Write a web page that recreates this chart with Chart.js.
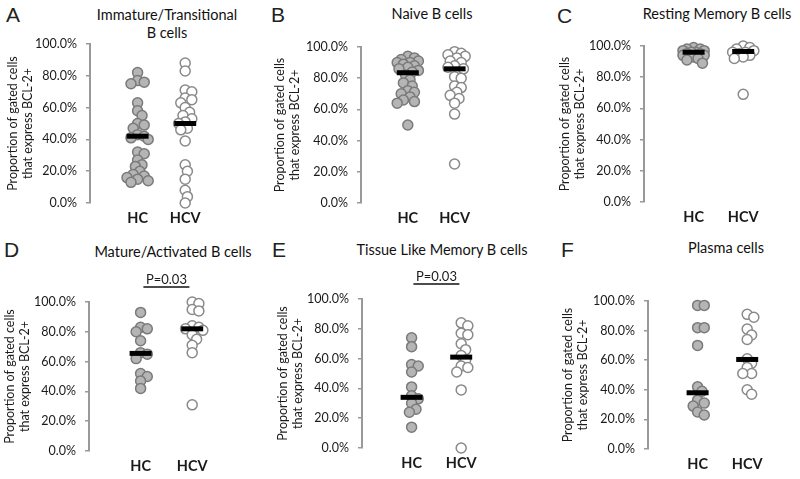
<!DOCTYPE html>
<html>
<head>
<meta charset="utf-8">
<script src="https://cdn.jsdelivr.net/npm/chart.js@4.4.1/dist/chart.umd.min.js"></script>
<style>
  body { margin: 0; background: #fff; width: 800px; height: 479px; position: relative; overflow: hidden; font-family: Lato, sans-serif; color: #1a1a1a; }
  canvas { position: absolute; }
  .letter { position: absolute; font-family: "Liberation Sans", sans-serif; font-size: 21px; line-height: 22px; color: #222; }
  .title { position: absolute; width: 240px; text-align: center; font-size: 14.5px; line-height: 18px; color: #111; }
</style>
</head>
<body>
<script>
const groups = ["HC", "HCV"];
const panelLetters = ["A", "B", "C", "D", "E", "F"];
const panelTitles = [
  ["Immature/Transitional", "B cells"],
  ["Naive B cells"],
  ["Resting Memory B cells"],
  ["Mature/Activated B cells"],
  ["Tissue Like Memory B cells"],
  ["Plasma cells"]
];
const yTitle = ["Proportion of gated cells", "that express BCL-2+"];
const pLabels = [null, null, null, "P=0.03", "P=0.03", null];

// values in %
const hcA = [82, 77, 76, 75, 63, 58, 55, 50, 49, 47, 43, 42, 41, 40, 32, 31, 27, 24, 23, 20, 18, 17, 16, 15, 14, 13];
const hcvA = [88, 83, 71, 70, 66, 65, 63, 60, 57, 55, 53, 51, 50, 47, 46, 39, 24, 20, 15, 8, 4, 0];
const medA = [42, 50];

const hcB = [94, 93, 92, 91, 90, 90, 89, 88, 87, 86, 85, 84, 82, 79, 77, 75, 72, 71, 70, 68, 66, 65, 64, 50];
const hcvB = [97, 96, 95, 94, 93, 91, 90, 88, 87, 86, 81, 80, 75, 74, 71, 69, 67, 64, 57, 25];
const medB = [83.5, 86];

const hcC = [99, 98, 98, 97, 97, 96, 96, 95, 95, 94, 94, 93, 92, 91, 89];
const hcvC = [100, 99, 98, 97, 96, 96, 95, 94, 93, 92, 69];
const medC = [96, 96.5];

const hcD = [93, 83, 82, 80, 74, 66, 65, 62, 52, 50, 47, 42];
const hcvD = [100, 99, 95, 94, 84, 83, 82, 81, 78, 75, 71, 66, 31];
const medD = [65.5, 82];

const hcE = [74, 68, 56, 55, 51, 41, 35, 33, 30, 26, 24, 14];
const hcvE = [84, 82, 77, 76, 70, 66, 62, 59, 55, 54, 51, 39, 0];
const medE = [34, 61];

const hcF = [97, 97, 82, 82, 70, 42, 39, 33, 31, 29, 25, 23];
const hcvF = [91, 89, 81, 77, 74, 61, 58, 55, 51, 51, 40, 37];
const medF = [38, 60.5];

const hcSets = [hcA, hcB, hcC, hcD, hcE, hcF];
const hcvSets = [hcvA, hcvB, hcvC, hcvD, hcvE, hcvF];
const medSets = [medA, medB, medC, medD, medE, medF];

// page layout of each panel (pixels)
const layout = [
  { left: 0,   top: 0,   axis: 90,  plotTop: 44,  plotBottom: 203, step: 54, yt: 5,  tx: 167, ty: 6,   lx: 6,   ly: 4 },
  { left: 265, top: 0,   axis: 96,  plotTop: 47,  plotBottom: 203, step: 53, yt: 7,  tx: 432, ty: 5,   lx: 271, ly: 4 },
  { left: 530, top: 0,   axis: 114, plotTop: 46,  plotBottom: 202, step: 56, yt: 27, tx: 717, ty: 5,   lx: 557, ly: 5 },
  { left: 0,   top: 240, axis: 89,  plotTop: 302, plotBottom: 451, step: 58, yt: 2,  tx: 173, ty: 243, lx: 4,   ly: 239 },
  { left: 265, top: 240, axis: 97,  plotTop: 299, plotBottom: 448, step: 56, yt: 10, tx: 442, ty: 241, lx: 272, ly: 239 },
  { left: 530, top: 240, axis: 118, plotTop: 301, plotBottom: 449, step: 56, yt: 30, tx: 726, ty: 239, lx: 561, ly: 239 }
];

// small beeswarm: dots spread sideways within +-12px, overlapping when crowded
function swarm(vals, center, step, pxPerY) {
  const placed = [];
  const order = vals.map((v, i) => i).sort((a, b) => vals[b] - vals[a]);
  const out = [];
  const cands = [0, 2.5, -2.5, 5, -5, 7.5, -7.5, 10, -10, 12, -12];
  for (const i of order) {
    const py = vals[i] * pxPerY;
    let best = 0, bestD = -1;
    for (const c of cands) {
      const d = placed.length ? Math.min(...placed.map(p => Math.hypot(p.x - c, p.y - py))) : 99;
      if (d >= 6.5) { best = c; bestD = d; break; }
      if (d > bestD) { bestD = d; best = c; }
    }
    placed.push({ x: best, y: py });
    out.push({ x: center + best / step, y: vals[i] });
  }
  return out;
}

const pPlugin = {
  id: "pval",
  afterDraw(chart, args, opts) {
    if (!opts.text) return;
    const { ctx, chartArea, scales } = chart;
    const mid = (scales.x.getPixelForValue(1) + scales.x.getPixelForValue(2)) / 2;
    const y = chartArea.top - 15;
    ctx.save();
    ctx.strokeStyle = "#111";
    ctx.lineWidth = 1.5;
    ctx.beginPath();
    ctx.moveTo(mid - 23, y);
    ctx.lineTo(mid + 23, y);
    ctx.stroke();
    ctx.font = "13px Lato";
    ctx.textAlign = "center";
    ctx.textBaseline = "bottom";
    ctx.fillStyle = "#1a1a1a";
    ctx.fillText(opts.text, mid, y - 1);
    ctx.restore();
  }
};

layout.forEach((L, k) => {
  const letter = document.createElement("div");
  letter.className = "letter";
  letter.style.left = L.lx + "px";
  letter.style.top = L.ly + "px";
  letter.textContent = panelLetters[k];
  document.body.appendChild(letter);

  const title = document.createElement("div");
  title.className = "title";
  title.style.left = (L.tx - 120) + "px";
  title.style.top = L.ty + "px";
  title.innerHTML = panelTitles[k].join("<br>");
  document.body.appendChild(title);

  const cv = document.createElement("canvas");
  const w = Math.round(L.axis + 2.5 * L.step);
  const h = L.plotBottom - L.top + 30;
  cv.width = w; cv.height = h;
  cv.style.left = L.left + "px";
  cv.style.top = L.top + "px";
  cv.style.width = w + "px";
  cv.style.height = h + "px";
  document.body.appendChild(cv);

  const pxPerY = (L.plotBottom - L.plotTop) / 100;

  new Chart(cv, {
    type: "scatter",
    data: {
      datasets: [
        {
          label: "median",
          data: medSets[k].map((m, i) => ({ x: i + 1, y: m })),
          pointStyle: "line",
          radius: 11,
          hoverRadius: 11,
          borderWidth: 5,
          hoverBorderWidth: 5,
          borderColor: "#000",
          clip: false
        },
        {
          label: groups[0],
          data: swarm(hcSets[k], 1, L.step, pxPerY),
          pointRadius: 5,
          pointBorderWidth: 1.5,
          backgroundColor: "#b5b5b5",
          borderColor: "#7a7a7a",
          clip: false
        },
        {
          label: groups[1],
          data: swarm(hcvSets[k], 2, L.step, pxPerY),
          pointRadius: 5,
          pointBorderWidth: 1.5,
          backgroundColor: "#fff",
          borderColor: "#8a8a8a",
          clip: false
        }
      ]
    },
    options: {
      responsive: false,
      animation: false,
      devicePixelRatio: 1,
      layout: { padding: { top: L.plotTop - L.top, left: 0, right: 0, bottom: 0 } },
      plugins: {
        legend: { display: false },
        tooltip: { enabled: false },
        pval: { text: pLabels[k] }
      },
      scales: {
        x: {
          type: "linear",
          min: 0,
          max: 2.5,
          afterBuildTicks: s => { s.ticks = [{ value: 1 }, { value: 2 }]; },
          afterFit: s => { s.height = 30; },
          grid: { display: false, drawTicks: false },
          border: { display: false },
          ticks: {
            padding: 7,
            color: "#1a1a1a",
            font: { family: "Lato", size: 14.5, weight: "bold" },
            callback: v => groups[v - 1]
          }
        },
        y: {
          min: 0,
          max: 100,
          afterFit: s => { s.width = L.axis; },
          ticks: {
            stepSize: 20,
            padding: 9,
            color: "#1a1a1a",
            font: { family: "Lato", size: 12.5 },
            callback: v => v.toFixed(1) + "%"
          },
          grid: { drawOnChartArea: false, drawTicks: true, tickLength: 4, color: "#999", lineWidth: 1.5 },
          border: { color: "#999", width: 2 },
          title: {
            display: true,
            text: yTitle,
            color: "#1a1a1a",
            font: { family: "Lato", size: 12.5, lineHeight: 1.25 },
            padding: { top: L.yt, bottom: 0 }
          }
        }
      }
    },
    plugins: [pPlugin]
  });
});
</script>
</body>
</html>
